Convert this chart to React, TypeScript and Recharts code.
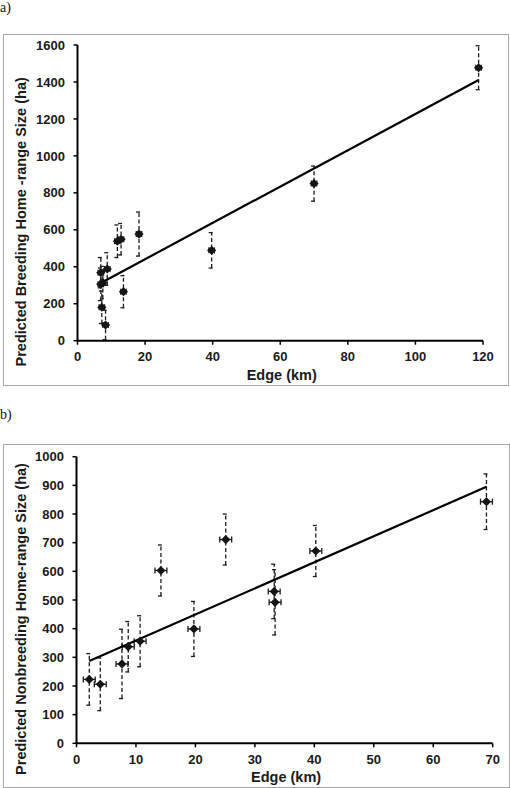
import React from "react";
import { ComposedChart, Scatter, XAxis, YAxis, ErrorBar } from "recharts";

// a) breeding season
const breedingEdge = [6.9, 8.8, 7.5, 6.9, 7.2, 8.3, 13.6, 11.8, 12.9, 18.2, 39.7, 70.0, 118.7];
const breedingSize = [368, 388, 314, 305, 181, 85, 265, 538, 549, 577, 489, 850, 1477];
const breedingSizeErr = [82, 88, 88, 88, 88, 80, 87, 88, 85, 119, 96, 95, 119];
const breedingEdgeErr = [0.8, 0.8, 0.8, 0.8, 0.8, 0.8, 0.8, 0.8, 0.8, 0.8, 0.8, 0.8, 0.8];
const breedingFitEdge = [7.6, 118.7];
const breedingFitSize = [319, 1411];
const breedingXTicks = [0, 20, 40, 60, 80, 100, 120];
const breedingYTicks = [0, 200, 400, 600, 800, 1000, 1200, 1400, 1600];

// b) nonbreeding season
const nonbreedingEdge = [2.15, 4.0, 7.65, 8.7, 10.7, 14.2, 19.75, 25.1, 33.25, 33.4, 40.25, 68.95];
const nonbreedingSize = [223, 206, 277, 337, 356, 603, 399, 711, 530, 492, 671, 843];
const nonbreedingSizeErr = [90, 92, 121, 88, 89, 89, 96, 89, 95, 114, 89, 97];
const nonbreedingEdgeErr = [1, 1, 1, 1, 1, 1, 1, 1, 1, 1, 1, 1];
const nonbreedingFitEdge = [2.15, 68.95];
const nonbreedingFitSize = [287, 895];
const nonbreedingXTicks = [0, 10, 20, 30, 40, 50, 60, 70];
const nonbreedingYTicks = [0, 100, 200, 300, 400, 500, 600, 700, 800, 900, 1000];

const FONT = "Arial, 'Liberation Sans', Helvetica, sans-serif";

function toPoints(xs: number[], ys: number[], exs?: number[], eys?: number[]) {
  return xs.map((x, i) => ({
    x,
    y: ys[i],
    ex: exs ? exs[i] : 0,
    ey: eys ? eys[i] : 0,
  }));
}

function Diamond(props: any) {
  const { cx, cy } = props;
  if (cx == null || cy == null) return <g />;
  const r = 4.6;
  return (
    <path
      d={`M${cx},${cy - r}L${cx + r},${cy}L${cx},${cy + r}L${cx - r},${cy}Z`}
      fill="#151515"
    />
  );
}

const tickStyle = { fill: "#1a1a1a", fontSize: 13, fontWeight: "bold" as const, fontFamily: FONT };

const xTitle = (text: string, below: number) => (props: any) => {
  const vb = props.viewBox;
  const cx = vb.x + vb.width / 2 + 1.5;
  const cy = vb.y + below;
  return (
    <text x={cx} y={cy} textAnchor="middle" fontFamily={FONT} fontSize={14.5} fontWeight="bold" fill="#1a1a1a">
      {text}
    </text>
  );
};

const yTitle = (text: string, shift: number) => (props: any) => {
  const vb = props.viewBox;
  const cx = vb.x + 17.7;
  const cy = vb.y + vb.height / 2 + shift;
  return (
    <text
      x={cx}
      y={cy}
      transform={`rotate(-90, ${cx}, ${cy})`}
      textAnchor="middle"
      dominantBaseline="central"
      fontFamily={FONT}
      fontSize={14.5}
      fontWeight="bold"
      fill="#1a1a1a"
    >
      {text}
    </text>
  );
};

interface PanelProps {
  width: number;
  height: number;
  margin: { top: number; right: number; bottom: number; left: number };
  yAxisWidth: number;
  xAxisHeight: number;
  xDomain: [number, number];
  yDomain: [number, number];
  xTicks: number[];
  yTicks: number[];
  points: { x: number; y: number; ex: number; ey: number }[];
  fit: { x: number; y: number }[];
  yLabel: string;
  yShift: number;
}

function Panel(p: PanelProps) {
  return (
    <ComposedChart width={p.width} height={p.height} margin={p.margin}>
      <XAxis
        type="number"
        dataKey="x"
        domain={p.xDomain}
        ticks={p.xTicks}
        allowDataOverflow
        height={p.xAxisHeight}
        axisLine={{ stroke: "#000", strokeWidth: 2 }}
        tickLine={{ stroke: "#000", strokeWidth: 1.5 }}
        tickSize={4}
        tickMargin={7.5}
        tick={tickStyle}
        label={{ content: xTitle("Edge (km)", 39) } as any}
      />
      <YAxis
        type="number"
        dataKey="y"
        domain={p.yDomain}
        ticks={p.yTicks}
        allowDataOverflow
        width={p.yAxisWidth}
        axisLine={{ stroke: "#000", strokeWidth: 2 }}
        tickLine={{ stroke: "#000", strokeWidth: 1.5 }}
        tickSize={4}
        tickMargin={8.5}
        tick={tickStyle}
        label={{ content: yTitle(p.yLabel, p.yShift) } as any}
      />
      <Scatter
        data={p.fit}
        line={{ stroke: "#000", strokeWidth: 2.2 }}
        shape={() => <g />}
        isAnimationActive={false}
        legendType="none"
      />
      <Scatter data={p.points} shape={<Diamond />} isAnimationActive={false} legendType="none">
        <ErrorBar dataKey="ey" direction="y" width={3} stroke="#1a1a1a" strokeWidth={1.3} strokeDasharray="4 2.5" />
        <ErrorBar dataKey="ex" direction="x" width={3} stroke="#1a1a1a" strokeWidth={1.3} />
      </Scatter>
    </ComposedChart>
  );
}

export default function App() {
  const breedingPoints = toPoints(breedingEdge, breedingSize, breedingEdgeErr, breedingSizeErr);
  const breedingFit = toPoints(breedingFitEdge, breedingFitSize);
  const nonbreedingPoints = toPoints(nonbreedingEdge, nonbreedingSize, nonbreedingEdgeErr, nonbreedingSizeErr);
  const nonbreedingFit = toPoints(nonbreedingFitEdge, nonbreedingFitSize);

  const panelLabel: React.CSSProperties = {
    position: "absolute",
    left: 0,
    fontFamily: "'Liberation Serif', 'Times New Roman', serif",
    fontSize: 14,
    lineHeight: "16px",
    color: "#111",
  };

  return (
    <div style={{ position: "absolute", left: 0, top: 0, width: 510, height: 788, background: "#fff", overflow: "hidden" }}>
      <div style={{ ...panelLabel, top: 0 }}>a)</div>
      <div style={{ ...panelLabel, top: 407 }}>b)</div>

      <div
        style={{
          position: "absolute",
          left: 3,
          top: 34,
          width: 506,
          height: 352,
          border: "1px solid #a8a8a8",
          boxSizing: "border-box",
        }}
      >
        <div style={{ position: "absolute", left: -1, top: -1 }}>
          <Panel
            width={506}
            height={352}
            margin={{ top: 11, right: 26, bottom: 0, left: 0 }}
            yAxisWidth={74.5}
            xAxisHeight={45.3}
            xDomain={[0, 120]}
            yDomain={[0, 1600]}
            xTicks={breedingXTicks}
            yTicks={breedingYTicks}
            points={breedingPoints}
            fit={breedingFit}
            yLabel="Predicted Breeding Home -range Size (ha)"
            yShift={29}
          />
        </div>
      </div>

      <div
        style={{
          position: "absolute",
          left: 3,
          top: 444,
          width: 507,
          height: 344,
          border: "1px solid #a8a8a8",
          boxSizing: "border-box",
        }}
      >
        <div style={{ position: "absolute", left: -1, top: -1 }}>
          <Panel
            width={507}
            height={344}
            margin={{ top: 12.7, right: 17.3, bottom: 0, left: 0 }}
            yAxisWidth={73.5}
            xAxisHeight={44.7}
            xDomain={[0, 70]}
            yDomain={[0, 1000]}
            xTicks={nonbreedingXTicks}
            yTicks={nonbreedingYTicks}
            points={nonbreedingPoints}
            fit={nonbreedingFit}
            yLabel="Predicted Nonbreeding Home-range Size (ha)"
            yShift={19}
          />
        </div>
      </div>
    </div>
  );
}
